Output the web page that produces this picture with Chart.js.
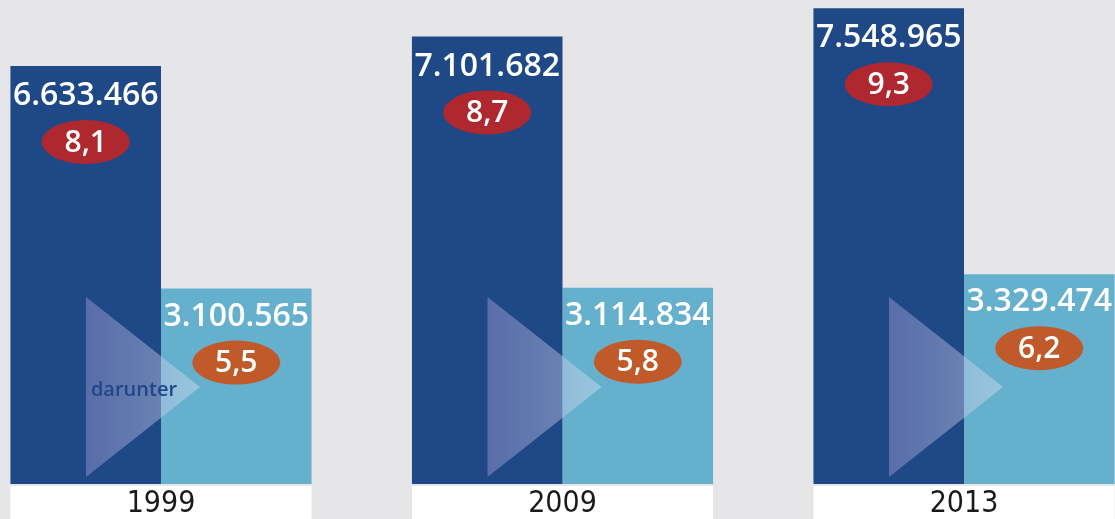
<!DOCTYPE html>
<html>
<head>
<meta charset="utf-8">
<script src="https://cdn.jsdelivr.net/npm/chart.js@4"></script>
<style>
  html, body { margin: 0; padding: 0; background: #e6e6e8; overflow: hidden; }
  .wrap { position: relative; width: 1115px; height: 519px; }
</style>
</head>
<body>
<div class="wrap"><canvas id="chart"></canvas></div>
<script>
// Jahre und Werte
const years = ["1999", "2009", "2013"]
const totalValues = [6633466, 7101682, 7548965]
const totalShares = [8.1, 8.7, 9.3]
const subsetValues = [3100565, 3114834, 3329474]
const subsetShares = [5.5, 5.8, 6.2]
const subsetNote = "darunter"

const darkBlue = "#1e4886"
const lightBlue = "#65b0cc"
const redBadge = "#b0282f"
const orangeBadge = "#c05a2a"

const fmtNumber = (v) => String(v).replace(/\B(?=(\d{3})+(?!\d))/g, ".")
const fmtShare = (v) => v.toFixed(1).replace(".", ",")

function drawBadge(ctx, x, y, color, text) {
  ctx.save()
  ctx.fillStyle = color
  ctx.beginPath()
  ctx.ellipse(x, y, 44, 22, 0, 0, Math.PI * 2)
  ctx.fill()
  ctx.fillStyle = "#ffffff"
  ctx.font = "600 30px 'Open Sans', sans-serif"
  ctx.textAlign = "center"
  ctx.textBaseline = "middle"
  ctx.fillText(text, x, y + 1)
  ctx.restore()
}

const decorPlugin = {
  id: "decor",
  beforeDraw(chart) {
    // weisse Streifen unter den Balken
    const ctx = chart.ctx
    const dark = chart.getDatasetMeta(0).data
    const light = chart.getDatasetMeta(1).data
    ctx.save()
    ctx.fillStyle = "#ffffff"
    dark.forEach((bar, i) => {
      const left = bar.x - bar.width / 2
      const right = light[i].x + light[i].width / 2
      ctx.fillRect(left, chart.chartArea.bottom + 2, right - left, chart.height - chart.chartArea.bottom)
    })
    ctx.restore()
  },
  afterDatasetsDraw(chart) {
    const ctx = chart.ctx
    const area = chart.chartArea
    const dark = chart.getDatasetMeta(0).data
    const light = chart.getDatasetMeta(1).data

    // Dreiecke
    dark.forEach((bar, i) => {
      const cx = (bar.x + light[i].x) / 2
      const x0 = cx - 75
      const x1 = cx + 39
      const top = area.bottom - 187
      const bottom = area.bottom - 7
      const grad = ctx.createLinearGradient(x0, 0, x1, 0)
      grad.addColorStop(0, "rgba(170, 160, 220, 0.42)")
      grad.addColorStop(1, "rgba(215, 225, 242, 0.45)")
      ctx.save()
      ctx.fillStyle = grad
      ctx.beginPath()
      ctx.moveTo(x0, top)
      ctx.lineTo(x1, (top + bottom) / 2)
      ctx.lineTo(x0, bottom)
      ctx.closePath()
      ctx.fill()
      ctx.restore()
      if (i === 0) {
        ctx.save()
        ctx.fillStyle = "#21478a"
        ctx.font = "600 20px 'Open Sans', sans-serif"
        ctx.textAlign = "center"
        ctx.textBaseline = "middle"
        ctx.fillText(subsetNote, cx - 27, (top + bottom) / 2 + 3)
        ctx.restore()
      }
    })

    // Beschriftungen
    ctx.save()
    ctx.fillStyle = "#ffffff"
    ctx.font = "600 32px 'Open Sans', sans-serif"
    ctx.textAlign = "center"
    ctx.textBaseline = "middle"
    dark.forEach((bar, i) => {
      ctx.fillText(fmtNumber(totalValues[i]), bar.x, bar.y + 30)
    })
    light.forEach((bar, i) => {
      ctx.fillText(fmtNumber(subsetValues[i]), bar.x, bar.y + 28)
    })
    ctx.restore()
    dark.forEach((bar, i) => drawBadge(ctx, bar.x, bar.y + 76, redBadge, fmtShare(totalShares[i])))
    light.forEach((bar, i) => drawBadge(ctx, bar.x, bar.y + 74, orangeBadge, fmtShare(subsetShares[i])))
  },
}

const ctx = document.getElementById("chart").getContext("2d")
const chart = new Chart(ctx, {
  type: "bar",
  data: {
    labels: years,
    datasets: [
      {
        label: "insgesamt",
        data: totalValues,
        backgroundColor: darkBlue,
        borderWidth: 0,
        clip: false,
      },
      {
        label: "darunter",
        data: subsetValues,
        backgroundColor: lightBlue,
        borderWidth: 0,
        clip: false,
      },
    ],
  },
  options: {
    responsive: true,
    maintainAspectRatio: false,
    animation: false,
    layout: {
      padding: { left: 161, right: 151, top: 0, bottom: -5 },
    },
    datasets: {
      bar: {
        categoryPercentage: 0.75,
        barPercentage: 1,
      },
    },
    plugins: {
      legend: { display: false },
      tooltip: { enabled: false },
    },
    scales: {
      x: {
        offset: false,
        border: { display: false },
        grid: { display: false, drawTicks: false },
        ticks: {
          color: "#1a1a1a",
          padding: 5,
          font: { family: "'Liberation Sans Narrow', 'DejaVu Sans Condensed', sans-serif", size: 30, lineHeight: 1 },
        },
      },
      y: {
        display: false,
        min: 0,
        max: 7680000,
      },
    },
  },
  plugins: [decorPlugin],
})
</script>
</body>
</html>
